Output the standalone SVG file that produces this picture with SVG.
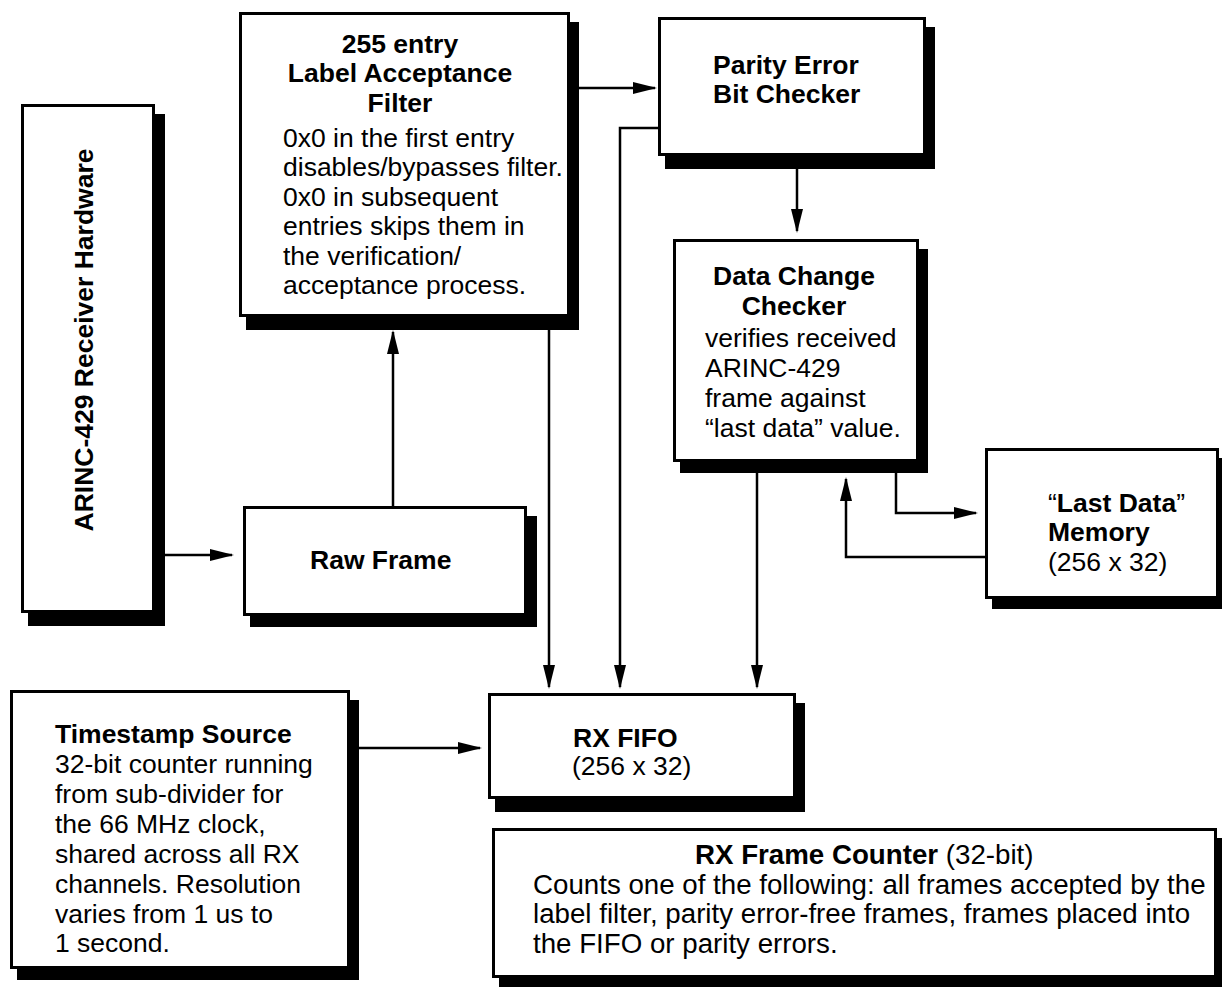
<svg xmlns="http://www.w3.org/2000/svg" width="1222" height="987" viewBox="0 0 1222 987">
  <style>
    .shadow { fill: #000; }
    .box { fill: #fff; stroke: #000; stroke-width: 3; }
    .t { font-family: "Liberation Sans", Arial, Helvetica, sans-serif; font-size: 26.5px; fill: #000; }
    .big { font-size: 27.7px; }
    .b { font-weight: bold; }
    .mid { text-anchor: middle; }
    .wire { fill: none; stroke: #000; stroke-width: 2.5; }
  </style>
  <defs>
    <marker id="arrow" markerUnits="userSpaceOnUse" markerWidth="26" markerHeight="12" refX="22" refY="6" orient="auto">
      <path d="M0,0 L24,6 L0,12 Z" fill="#000"/>
    </marker>
  </defs>

  <rect width="1222" height="987" fill="#fff"/>

  <!-- connectors -->
  <g id="connectors" class="wire" marker-end="url(#arrow)">
    <path d="M165,555 H232"/>
    <path d="M393,506 V332"/>
    <path d="M579,88 H655"/>
    <path d="M658,128 H620 V687"/>
    <path d="M549,329 V687"/>
    <path d="M797,169 V231"/>
    <path d="M757,473 V687"/>
    <path d="M896,473 V513 H976"/>
    <path d="M985,557 H846 V479"/>
    <path d="M359,748 H480"/>
  </g>

  <!-- ARINC-429 receiver hardware -->
  <g id="arinc-hw">
    <rect class="shadow" x="28" y="114" width="137" height="512"/>
    <rect class="box" x="22.5" y="105.5" width="131" height="506"/>
    <text class="t b mid" transform="translate(93,340) rotate(-90)">ARINC-429 Receiver Hardware</text>
  </g>

  <!-- label acceptance filter -->
  <g id="label-filter">
    <rect class="shadow" x="246" y="22" width="333" height="308"/>
    <rect class="box" x="240.5" y="13.5" width="328" height="302"/>
    <text class="t b mid" x="400" y="53">255 entry</text>
    <text class="t b mid" x="400" y="82">Label Acceptance</text>
    <text class="t b mid" x="400" y="112">Filter</text>
    <text class="t" x="283" y="146.5">0x0 in the first entry</text>
    <text class="t" x="283" y="176">disables/bypasses filter.</text>
    <text class="t" x="283" y="205.5">0x0 in subsequent</text>
    <text class="t" x="283" y="235">entries skips them in</text>
    <text class="t" x="283" y="264.5">the verification/</text>
    <text class="t" x="283" y="294">acceptance process.</text>
  </g>

  <!-- parity error bit checker -->
  <g id="parity-checker">
    <rect class="shadow" x="665" y="27" width="270" height="142"/>
    <rect class="box" x="659.5" y="18.5" width="265" height="136"/>
    <text class="t b" x="713" y="74">Parity Error</text>
    <text class="t b" x="713" y="103">Bit Checker</text>
  </g>

  <!-- data change checker -->
  <g id="data-change">
    <rect class="shadow" x="680" y="249" width="248" height="224"/>
    <rect class="box" x="674.5" y="240.5" width="243" height="220"/>
    <text class="t b mid" x="794" y="285">Data Change</text>
    <text class="t b mid" x="794" y="315">Checker</text>
    <text class="t" x="705" y="346.5">verifies received</text>
    <text class="t" x="705" y="376.5">ARINC-429</text>
    <text class="t" x="705" y="407">frame against</text>
    <text class="t" x="705" y="436.5">“last data” value.</text>
  </g>

  <!-- last data memory -->
  <g id="last-data">
    <rect class="shadow" x="992" y="458" width="236" height="151"/>
    <rect class="box" x="986.5" y="449.5" width="231" height="148"/>
    <text class="t" x="1048" y="511.5">“<tspan class="b">Last Data</tspan>”</text>
    <text class="t b" x="1048" y="540.5">Memory</text>
    <text class="t" x="1048" y="570.5">(256 x 32)</text>
  </g>

  <!-- raw frame -->
  <g id="raw-frame">
    <rect class="shadow" x="250" y="516" width="287" height="111"/>
    <rect class="box" x="244.5" y="507.5" width="281" height="107"/>
    <text class="t b" x="310" y="569">Raw Frame</text>
  </g>

  <!-- timestamp source -->
  <g id="timestamp">
    <rect class="shadow" x="17" y="700" width="342" height="280"/>
    <rect class="box" x="11.5" y="691.5" width="337" height="276"/>
    <text class="t b" x="55" y="743">Timestamp Source</text>
    <text class="t" x="55" y="773">32-bit counter running</text>
    <text class="t" x="55" y="803">from sub-divider for</text>
    <text class="t" x="55" y="833">the 66 MHz clock,</text>
    <text class="t" x="55" y="862.5">shared across all RX</text>
    <text class="t" x="55" y="892.5">channels. Resolution</text>
    <text class="t" x="55" y="922.5">varies from 1 us to</text>
    <text class="t" x="55" y="951.5">1 second.</text>
  </g>

  <!-- receive FIFO -->
  <g id="rx-fifo">
    <rect class="shadow" x="495" y="703" width="310" height="109"/>
    <rect class="box" x="489.5" y="694.5" width="305" height="103"/>
    <text class="t b" x="573" y="747">RX FIFO</text>
    <text class="t" x="572" y="775">(256 x 32)</text>
  </g>

  <!-- receive frame counter -->
  <g id="rx-frame-counter">
    <rect class="shadow" x="499" y="838" width="727" height="153"/>
    <rect class="box" x="493.5" y="829.5" width="722" height="147"/>
    <text class="t big" x="695" y="864"><tspan class="b">RX Frame Counter</tspan> (32-bit)</text>
    <text class="t big" x="533" y="894">Counts one of the following: all frames accepted by the</text>
    <text class="t big" x="533" y="923">label filter, parity error-free frames, frames placed into</text>
    <text class="t big" x="533" y="953">the FIFO or parity errors.</text>
  </g>
</svg>
